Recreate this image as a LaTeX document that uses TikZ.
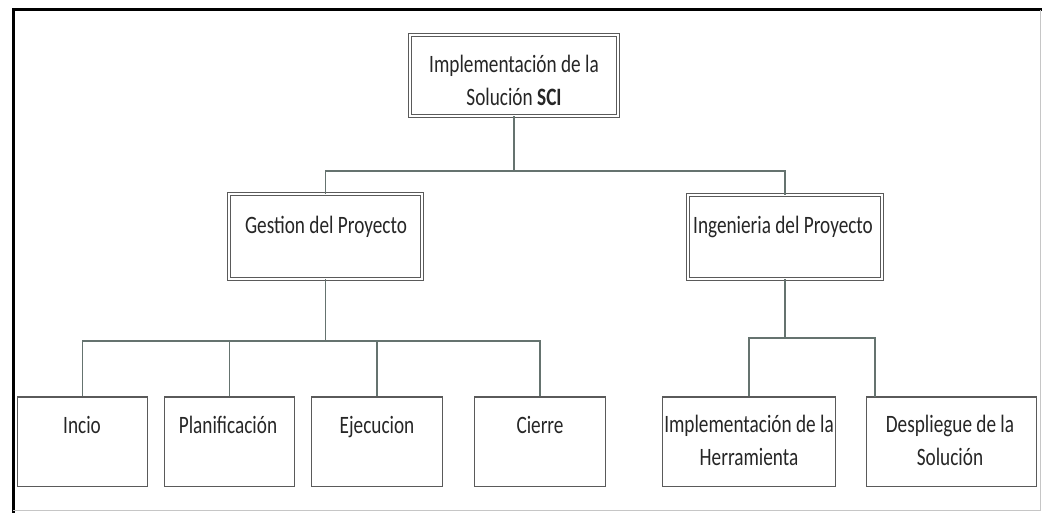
\documentclass[tikz,border=0pt]{standalone}
\usepackage{fontspec}
\setmainfont{Carlito}[FakeStretch=0.77]
\definecolor{boxline}{HTML}{5A5A5A}
\definecolor{linkline}{HTML}{65736F}
\definecolor{ink}{HTML}{262626}
\tikzset{
  dbox/.style={draw=boxline, line width=1pt, double=white, double distance=2.2pt, inner sep=0pt},
  sbox/.style={draw=boxline, line width=1.5pt, inner sep=0pt, minimum height=89.5pt},
  txt/.style={text=ink, align=center, inner sep=0pt, font=\fontsize{25}{33}\selectfont},
  link/.style={draw=linkline, line width=1.4pt}
}
\begin{document}
\begin{tikzpicture}[x=1pt, y=-1pt]
\useasboundingbox (0,0) rectangle (1043,513);
\fill[white] (0,0) rectangle (1043,513);

% outer frame
\draw[black, line width=3pt] (13,513) -- (13,10) -- (1041.5,10);
\draw[gray!45, line width=0.8pt] (1040,10) -- (1040,510) -- (13,510);

% top level (text lines carry struts so every label centres the same way)
\node[dbox, minimum width=207.8pt, minimum height=80.8pt] (root) at (514,75.5) {};
\node[txt] (troot) at (514,82.9) {\strut Implementación de la\\\strut Solución \textbf{SCI}};

% second level
\node[dbox, minimum width=192.8pt, minimum height=84.8pt] (gest) at (325.5,236.5) {};
\node[txt] (tgest) at (326,226.4) {\strut Gestion del Proyecto};
\node[dbox, minimum width=193.8pt, minimum height=83.8pt] (inge) at (785,237) {};
\node[txt] (tinge) at (783,226.4) {\strut Ingenieria del Proyecto};

% third level
\node[sbox, minimum width=130pt] (incio) at (82.5,441.5) {};
\node[txt] (tincio) at (82,426.4) {\strut Incio};
\node[sbox, minimum width=130pt] (plan) at (229.5,441.5) {};
\node[txt] (tplan) at (228,426.4) {\strut Planificación};
\node[sbox, minimum width=131pt] (ejec) at (377,441.5) {};
\node[txt] (tejec) at (377,426.4) {\strut Ejecucion};
\node[sbox, minimum width=131pt] (cierre) at (540,441.5) {};
\node[txt] (tcierre) at (540,426.4) {\strut Cierre};
\node[sbox, minimum width=173pt] (impl) at (749,441.5) {};
\node[txt] (timpl) at (749,442.4) {\strut Implementación de la\\\strut Herramienta};
\node[sbox, minimum width=170pt] (desp) at (951.5,441.5) {};
\node[txt] (tdesp) at (950,442.4) {\strut Despliegue de la\\\strut Solución};

% connectors
\coordinate (bus1) at (514,171);
\coordinate (bus2) at (325.5,341);
\coordinate (bus3) at (785,338);
\coordinate (dtop) at (875,396.75);

\draw[link] (root.south) -- (bus1);
\draw[link] (gest.north) |- (bus1) -| (inge.north);

\draw[link] (gest.south) -- (bus2);
\draw[link] (incio.north) |- (bus2) -| (cierre.north);
\draw[link] (plan.north) -- (plan.north |- bus2);
\draw[link] (ejec.north) -- (ejec.north |- bus2);

\draw[link] (inge.south) -- (bus3);
\draw[link] (impl.north) |- (bus3) -| (dtop);
\end{tikzpicture}
\end{document}
